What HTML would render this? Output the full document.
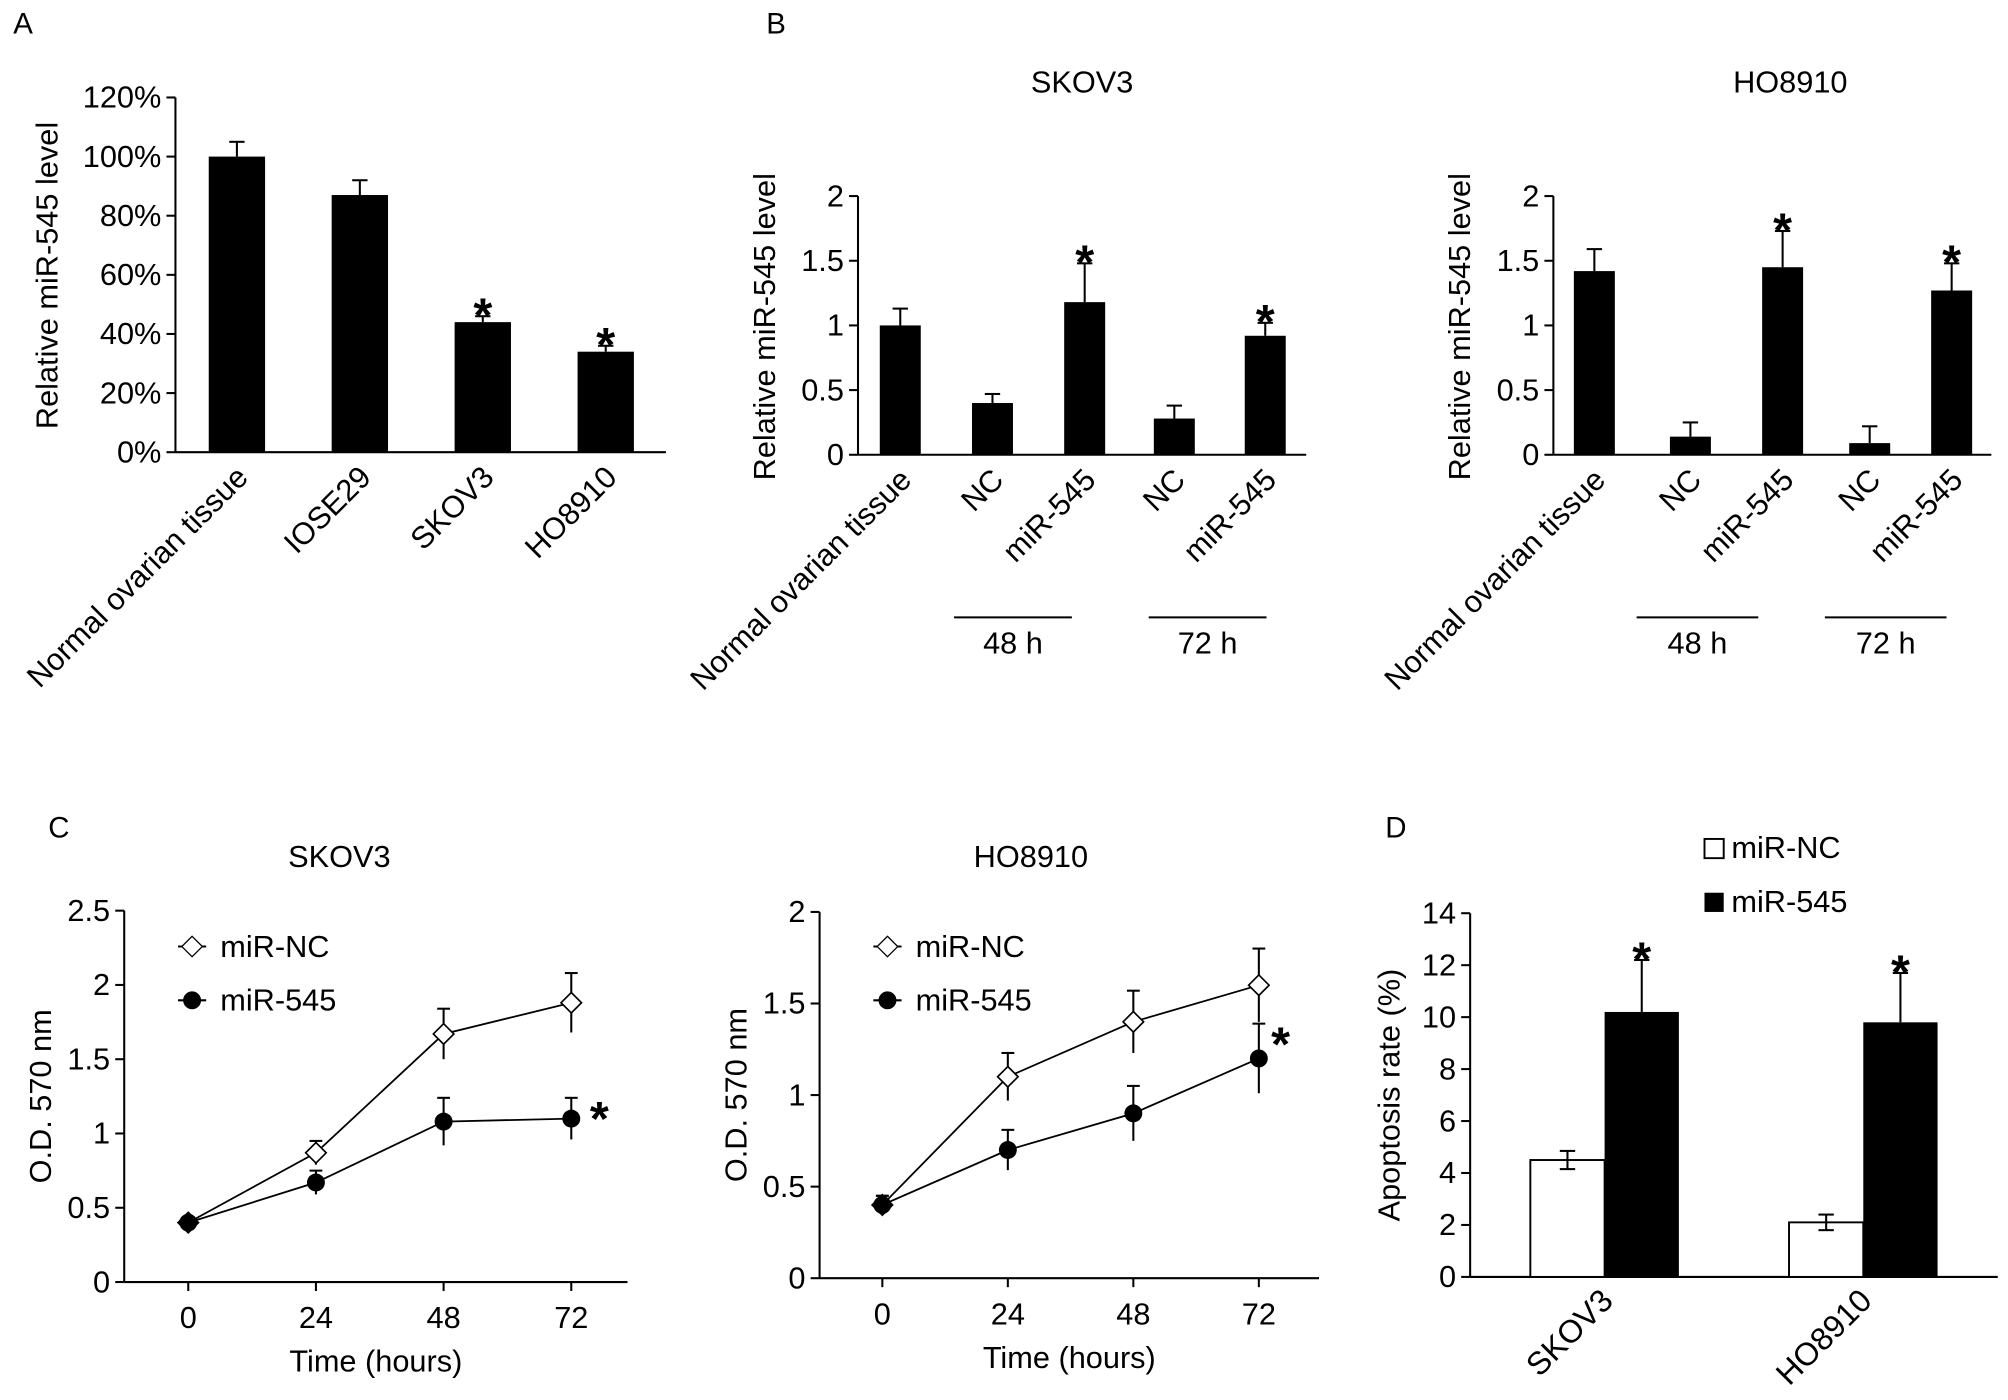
<!DOCTYPE html>
<html><head><meta charset="utf-8"><style>
html,body{margin:0;padding:0;background:#fff}
svg{display:block;font-family:"Liberation Sans",Arial,sans-serif}
</style></head><body>
<svg id="fig" width="2008" height="1400" viewBox="0 0 1568 1093" xmlns="http://www.w3.org/2000/svg"></svg>
<script>
// Panel A data
const aCats=["Normal ovarian tissue","IOSE29","SKOV3","HO8910"];
const aVals=[100,87,44,34];
const aErr=[5,5,2,2];
const aStar=[false,false,true,true];
const aTicks=[0,20,40,60,80,100,120];
// Panel B data
const bCats=["Normal ovarian tissue","NC","miR-545","NC","miR-545"];
const bSkovVals=[1.0,0.4,1.18,0.28,0.92];
const bSkovErr=[0.13,0.07,0.3,0.1,0.1];
const bHoVals=[1.42,0.14,1.45,0.09,1.27];
const bHoErr=[0.17,0.11,0.28,0.13,0.21];
const bStar=[false,false,true,false,true];
const bTicks=[0,0.5,1,1.5,2];
// Panel C data
const cTimes=[0,24,48,72];
const cSkovNC=[0.4,0.87,1.67,1.88];
const cSkovNCErr=[0.03,0.08,0.17,0.2];
const cSkov545=[0.4,0.67,1.08,1.1];
const cSkov545Err=[0.03,0.08,0.16,0.14];
const cHoNC=[0.4,1.1,1.4,1.6];
const cHoNCErr=[0.05,0.13,0.17,0.2];
const cHo545=[0.4,0.7,0.9,1.2];
const cHo545Err=[0.05,0.11,0.15,0.19];
const cSkovTicks=[0,0.5,1,1.5,2,2.5];
const cHoTicks=[0,0.5,1,1.5,2];
// Panel D data
const dCats=["SKOV3","HO8910"];
const dNC=[4.5,2.1];
const dNCErr=[0.35,0.3];
const d545=[10.2,9.8];
const d545Err=[2,1.9];
const dTicks=[0,2,4,6,8,10,12,14];

const FS=24;
const svg=document.getElementById('fig');
const NS="http://www.w3.org/2000/svg";
function el(tag,attrs,parent,text){const e=document.createElementNS(NS,tag);for(const k in attrs)e.setAttribute(k,attrs[k]);if(text!==undefined)e.textContent=text;(parent||svg).appendChild(e);return e;}
function txt(x,y,s,size,anchor,name,rot){const t=el('text',{x:x,y:y,'font-size':size,'text-anchor':anchor||'middle',fill:'#000'},svg,s);


if(rot)t.setAttribute('transform','rotate('+rot+' '+x+' '+y+')');return t;}
function star(x,yTop){const t=txt(x,yTop+12,"*",38,'middle','significance-star');t.setAttribute('font-weight','bold');return t;}
function line(x1,y1,x2,y2,name,w){const l=el('line',{x1:x1,y1:y1,x2:x2,y2:y2,stroke:'#000','stroke-width':w||1.6});

return l;}
function yAxis(x,xEnd,y0,yTop,vmax,ticks,fmt,prefix){
  const ys=v=>y0-(v/vmax)*(y0-yTop);
  line(x,ys(ticks[ticks.length-1]),x,y0,prefix+'-y-axis');
  line(x,y0,xEnd,y0,prefix+'-x-axis');
  ticks.forEach(t=>{line(x-7,ys(t),x,ys(t),prefix+'-y-tick');txt(x-11,ys(t)+8,fmt(t),FS,'end',prefix+'-y-tick-label');});
  return ys;}
function errBar(x,yv,yt,name,cap){line(x,yv,x,yt,name);line(x-(cap||6),yt,x+(cap||6),yt,name+'-cap');}

// Panel letters
txt(18,26,"A",23,'middle','panel-label-a');txt(606,26,"B",23,'middle','panel-label-b');
txt(46,654,"C",23,'middle','panel-label-c');txt(1090,654,"D",23,'middle','panel-label-d');

// Panel A
{const ys=yAxis(137,520,353,76,120,aTicks,t=>t+'%','a');
 const xs=i=>185+i*96;
 aCats.forEach((c,i)=>{const r=el('rect',{x:xs(i)-22,y:ys(aVals[i]),width:44,height:353-ys(aVals[i]),fill:'#000'});
  
  errBar(xs(i),ys(aVals[i]),ys(aVals[i]+aErr[i]),'error-bar-a');
  if(aStar[i])star(xs(i),ys(aVals[i]+aErr[i]));
  txt(xs(i)+10,374,c,FS,'end','x-label-a',-45);});
 txt(45,215,"Relative miR-545 level",FS,'middle','y-axis-title-a',-90);}

// Panel B
function panelB(ax,xEnd,centers,vals,errs,title,tx,lines,prefix){
 const ys=yAxis(ax,xEnd,355,153,2,bTicks,t=>String(t),prefix);
 txt(tx,72,title,FS,'middle',prefix+'-title');
 bCats.forEach((c,i)=>{const x=centers[i];const r=el('rect',{x:x-16,y:ys(vals[i]),width:32,height:355-ys(vals[i]),fill:'#000'});
  
  errBar(x,ys(vals[i]),ys(vals[i]+errs[i]),'error-bar-'+prefix);
  if(bStar[i])star(x,ys(vals[i]+errs[i]));
  txt(x+10,376,c,FS,'end','x-label-'+prefix,-45);});
 lines.forEach((l,j)=>{line(l[0],482,l[1],482,'group-line-'+prefix);txt((l[0]+l[1])/2,510,j?"72 h":"48 h",FS,'middle','group-label-'+prefix);});
 txt(ax-65,255,"Relative miR-545 level",FS,'middle','y-axis-title-'+prefix,-90);}
panelB(670,1020,[703,775,847,917,988],bSkovVals,bSkovErr,"SKOV3",845,[[745,837],[897,989]],'b-skov3');
panelB(1213,1555,[1245,1320,1392,1460,1524],bHoVals,bHoErr,"HO8910",1398,[[1278,1373],[1425,1520]],'b-ho8910');

// Panel C
function panelC(ax,xEnd,y0,yTop,vmax,ticks,x0,dx,nc,ncE,m,mE,title,tx,st,prefix){
 const ys=yAxis(ax,xEnd,y0,yTop,vmax,ticks,t=>String(t),prefix);
 const xs=t=>x0+t/24*dx;
 cTimes.forEach(t=>{line(xs(t),y0,xs(t),y0+7,prefix+'-x-tick');txt(xs(t),y0+36,String(t),FS,'middle',prefix+'-x-tick-label');});
 txt((ax+xEnd)/2,y0+70,"Time (hours)",FS,'middle',prefix+'-x-axis-title');
 txt(tx,677,title,FS,'middle',prefix+'-title');
 txt(ax-57,(y0+yTop)/2,"O.D. 570 nm",FS,'middle',prefix+'-y-axis-title',-90);
 [[nc,ncE,'nc'],[m,mE,'545']].forEach(([v,e,k])=>{
  cTimes.forEach((t,i)=>{errBar(xs(t),ys(v[i]-e[i]),ys(v[i]+e[i]),'error-bar-'+prefix+'-'+k,5);});
  const p=el('polyline',{points:cTimes.map((t,i)=>xs(t)+','+ys(v[i])).join(' '),fill:'none',stroke:'#000','stroke-width':1.4});
  
  cTimes.forEach((t,i)=>{const x=xs(t),y=ys(v[i]);let mk;
   if(k==='nc')mk=el('polygon',{points:`${x},${y-8} ${x+8},${y} ${x},${y+8} ${x-8},${y}`,fill:'#fff',stroke:'#000','stroke-width':1.3});
   else mk=el('circle',{cx:x,cy:y,r:7,fill:'#000'});
   });});
 star(st[0],st[1]);
 const lx=ax+53;
 line(lx-11,739,lx+11,739,'legend-line');let d=el('polygon',{points:`${lx},731 ${lx+8},739 ${lx},747 ${lx-8},739`,fill:'#fff',stroke:'#000'});
 
 txt(lx+22,747,"miR-NC",FS,'start','legend-entry-nc');
 line(lx-11,781,lx+11,781,'legend-line');let c=el('circle',{cx:lx,cy:781,r:7,fill:'#000'});
 
 txt(lx+22,789,"miR-545",FS,'start','legend-entry-545');}
panelC(97,490,1001,711,2.5,cSkovTicks,147,99.7,cSkovNC,cSkovNCErr,cSkov545,cSkov545Err,"SKOV3",265,[468,874],'c-skov3');
panelC(640,1030,998,712,2,cHoTicks,689,98,cHoNC,cHoNCErr,cHo545,cHo545Err,"HO8910",805,[1000,816],'c-ho8910');

// Panel D
{const ys=yAxis(1148,1560,997,713,14,dTicks,t=>String(t),'d');
 const gx=[1253,1455];
 dCats.forEach((c,i)=>{
  let r1=el('rect',{x:gx[i]-58,y:ys(dNC[i]),width:58,height:997-ys(dNC[i]),fill:'#fff',stroke:'#000','stroke-width':1.5});
  
  let r2=el('rect',{x:gx[i],y:ys(d545[i]),width:58,height:997-ys(d545[i]),fill:'#000'});
  
  errBar(gx[i]-29,ys(dNC[i]-dNCErr[i]),ys(dNC[i]+dNCErr[i]),'error-bar-d-nc');
  line(gx[i]-35,ys(dNC[i]-dNCErr[i]),gx[i]-23,ys(dNC[i]-dNCErr[i]),'error-bar-d-nc-cap');
  errBar(gx[i]+29,ys(d545[i]),ys(d545[i]+d545Err[i]),'error-bar-d-545');
  star(gx[i]+29,ys(d545[i]+d545Err[i]));
  txt(gx[i]+8,1017,c,25,'end','x-label-d',-45);});
 txt(1093,855,"Apoptosis rate (%)",FS,'middle','y-axis-title-d',-90);
 let s1=el('rect',{x:1331,y:655,width:15,height:15,fill:'#fff',stroke:'#000','stroke-width':1.5});
 
 txt(1352,670,"miR-NC",FS,'start','legend-entry-nc');
 let s2=el('rect',{x:1331,y:697,width:15,height:15,fill:'#000'});
 
 txt(1352,712,"miR-545",FS,'start','legend-entry-545');}
</script>
</body></html>
